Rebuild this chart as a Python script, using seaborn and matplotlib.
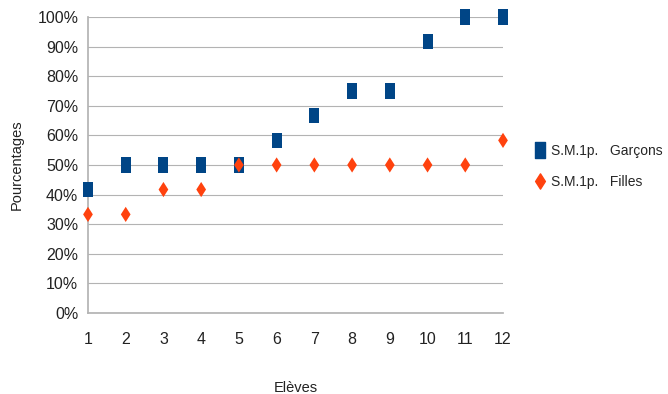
import numpy as np
import pandas as pd
import matplotlib
matplotlib.use('Agg')
import matplotlib.pyplot as plt
import seaborn as sns
from matplotlib.path import Path
from matplotlib.lines import Line2D
from matplotlib.ticker import PercentFormatter

# Données
eleves = [1, 2, 3, 4, 5, 6, 7, 8, 9, 10, 11, 12]
garcons = [41.7, 50, 50, 50, 50, 58.3, 66.7, 75, 75, 91.7, 100, 100]
filles = [33.3, 33.3, 41.7, 41.7, 50, 50, 50, 50, 50, 50, 50, 58.3]
labels = ['S.M.1p.   Garçons', 'S.M.1p.   Filles']
couleurs = ['#004586', '#ff420e']

df = pd.concat([
    pd.DataFrame({'Elèves': eleves, 'Pourcentages': garcons, 'serie': labels[0]}),
    pd.DataFrame({'Elèves': eleves, 'Pourcentages': filles, 'serie': labels[1]}),
])

# marqueurs du tableur : rectangle et losange plus hauts que larges
rect = Path([(-0.33, -0.5), (0.33, -0.5), (0.33, 0.5), (-0.33, 0.5), (-0.33, -0.5)],
            [Path.MOVETO, Path.LINETO, Path.LINETO, Path.LINETO, Path.CLOSEPOLY])
losange = Path([(0, -0.5), (0.32, 0), (0, 0.5), (-0.32, 0), (0, -0.5)],
               [Path.MOVETO, Path.LINETO, Path.LINETO, Path.LINETO, Path.CLOSEPOLY])

sns.set_theme(style='white')
plt.rcParams['font.family'] = ['Liberation Sans', 'DejaVu Sans']

fig = plt.figure(figsize=(6.68, 3.94), dpi=100)
ax = fig.add_axes([0.1317, 0.2056, 0.753 - 0.1317, 0.957 - 0.2056])

sns.scatterplot(data=df, x='Elèves', y='Pourcentages', hue='serie', style='serie',
                markers={labels[0]: rect, labels[1]: losange},
                palette=dict(zip(labels, couleurs)),
                s=120, linewidth=0, ax=ax, zorder=3, legend=False, clip_on=False)

ax.set_xlim(1, 12)
ax.set_ylim(0, 100)
ax.set_xticks(eleves)
ax.set_yticks(np.arange(0, 101, 10))
ax.yaxis.set_major_formatter(PercentFormatter(decimals=0))
ax.grid(axis='y', color='#b3b3b3', linewidth=0.8)
ax.set_axisbelow(True)
for side in ['top', 'right']:
    ax.spines[side].set_visible(False)
for side in ['left', 'bottom']:
    ax.spines[side].set_color('#b3b3b3')
ax.tick_params(axis='both', which='both', length=5, color='#b3b3b3',
               labelsize=11.5, labelcolor='#222222', direction='out')
ax.tick_params(axis='x', pad=9)
ax.tick_params(axis='y', pad=2)
ax.set_xlabel('Elèves', fontsize=10.5, labelpad=24, color='#222222')
ax.set_ylabel('Pourcentages', fontsize=10.5, labelpad=10, color='#222222')

# légende
handles = [
    Line2D([], [], marker=rect, color=couleurs[0], linestyle='', markersize=11),
    Line2D([], [], marker=losange, color=couleurs[1], linestyle='', markersize=11),
]
fig.legend(handles, labels, loc='center left', bbox_to_anchor=(0.79, 0.577),
           frameon=False, fontsize=10, handletextpad=0.3, labelspacing=1.25,
           handlelength=1.0, borderaxespad=0)

fig.savefig('out.png', dpi=100)
